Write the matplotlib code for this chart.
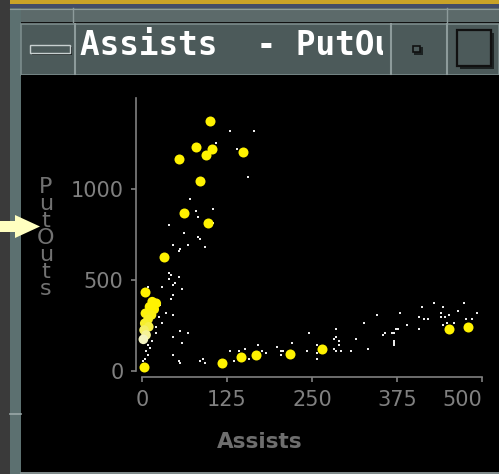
import numpy as np
import matplotlib
matplotlib.use('Agg')
from matplotlib import pyplot as plt
from matplotlib.patches import Rectangle, Polygon
from matplotlib.colors import LinearSegmentedColormap

# highlighted (yellow) players
yel_assists = [100, 80, 103, 94, 54, 148, 85, 62, 97, 33, 4, 18, 3, 118, 145, 168, 218, 265, 452, 480]
yel_putouts = [1375, 1233, 1222, 1189, 1167, 1202, 1046, 870, 815, 628, 432, 375, 20, 42, 79, 86, 93, 121, 231, 242]

# overlapping highlighted points near the origin
clu_assists = [15, 21, 11, 18, 5, 14, 9, 4, 10, 3, 6, 2]
clu_putouts = [381, 372, 353, 339, 317, 308, 284, 262, 243, 225, 198, 174]

# all the other players (small white dots)
dot_assists = [129, 165, 109, 139, 156, 71, 80, 104, 83, 39, 105,
               62, 83, 86, 45, 68, 92, 56, 54, 39, 42, 39, 54, 48, 45, 30, 59, 45, 42,
               9, 27, 36, 45, 25, 30, 21, 56, 68, 21, 15, 59, 45, 54, 56, 45,
               9, 12, 6, 9, 4, 1, 4,
               86, 89, 92, 130, 136, 142, 151, 157, 171, 177, 183, 198, 204, 207, 204, 221,
               242, 245, 257, 257, 257, 283, 286, 286, 289, 289, 283, 286, 292,
               307, 315, 327, 333, 345, 354, 357, 368, 371, 374, 377, 371, 371, 371, 380,
               389, 407, 407, 412, 415, 421, 430, 439, 439, 442, 445, 451, 442, 448, 459,
               465, 474, 477, 486, 492]
dot_putouts = [1320, 1320, 1254, 1222, 1068, 947, 881, 892, 848, 802, 815,
               760, 738, 727, 694, 694, 683, 672, 661, 540, 529, 507, 518, 485, 474, 463, 452, 419, 397,
               463, 364, 320, 309, 298, 265, 240, 221, 210, 210, 166, 155, 90, 57, 42, 185,
               145, 128, 112, 90, 68, 55, 40,
               57, 68, 46, 112, 57, 112, 123, 68, 145, 112, 101, 134, 112, 112, 90, 156,
               112, 210, 145, 101, 68, 177, 232, 188, 166, 145, 123, 112, 112,
               112, 177, 265, 123, 309, 199, 210, 210, 210, 232, 232, 145, 155, 166, 320,
               254, 298, 232, 353, 287, 287, 375, 320, 298, 353, 298, 309, 254, 265, 265,
               331, 375, 287, 287, 320]

x_ticks = [0, 125, 250, 375, 500]
y_ticks = [0, 500, 1000]

W, H = 499, 474
fig = plt.figure(figsize=(W / 100, H / 100), dpi=100, facecolor='black')

# window decoration, drawn in pixel coords
bg = fig.add_axes([0, 0, 1, 1])
bg.set_xlim(0, W)
bg.set_ylim(H, 0)
bg.axis('off')
bg.set_zorder(0)

def box(x, y, w, h, fc, ec='none', lw=0):
    bg.add_patch(Rectangle((x, y), w, h, facecolor=fc, edgecolor=ec, linewidth=lw))

box(0, 0, W, H, '#3a3a3a')
box(10, 0, W - 10, 3.5, '#c9a227')
box(10, 3.5, W - 10, 4.5, '#434c66')
box(10, 8, W - 10, 15, '#5c6a6a')
bg.plot([10, W], [8.5, 8.5], color='#8d9b9b', lw=0.8)
bg.plot([73.5, 73.5], [8, 22], color='#8d9b9b', lw=1)
bg.plot([447, 447], [8, 22], color='#8d9b9b', lw=1)
box(10, 8, 11, H - 8, '#5c7070')
bg.plot([10, 21], [413.5, 413.5], color='#9aa8a8', lw=1.2)
box(21, 22, W - 21, 1.5, '#111111')
box(21, 23.5, W - 21, 51.5, '#4c5a5a', '#7c8c8c', 1.2)
for xs in [75.5, 391, 447.5]:
    bg.plot([xs, xs], [24, 74], color='#8d9b9b', lw=1.5)
box(21, 75, W - 21, 397, 'black')
bg.plot([21, W], [472.5, 472.5], color='#8d9b9b', lw=1.2)

# title bar buttons
box(32, 47, 40, 8, '#1c2222')
box(30, 45, 40, 8, '#4c5a5a', '#c8d0d0', 1.0)
box(414, 47, 9, 8, '#1c2222')
box(413, 46, 7, 6, '#4c5a5a', '#111111', 1.2)
box(460, 33, 34, 36, '#1c2222')
box(457, 30, 34, 36, '#4c5a5a', '#111111', 1.6)

# title is cut off by the button, like in the window
clip = Rectangle((77, 24), 306, 50, transform=bg.transData)
title = bg.text(80, 55, 'Assists  - PutOuts', color='white', fontsize=23.5,
                family='DejaVu Sans Mono', weight='bold', va='baseline', ha='left',
                clip_on=True)
title.set_clip_path(clip)

# yellow arrow on the left edge
bg.add_patch(Polygon([(0, 221), (15, 221), (15, 215), (40, 226.5), (15, 238), (15, 232), (0, 232)],
                     closed=True, facecolor='#ffffc0', edgecolor='none'))

# the scatter plot itself
ax = fig.add_axes([142 / W, 103 / H, 340 / W, 273 / H])
ax.set_zorder(1)
ax.set_facecolor('none')
ax.set_xlim(0, 500)
ax.set_ylim(0, 1500)

gray = '#808080'
for s in ['top', 'right']:
    ax.spines[s].set_visible(False)
for s in ['left', 'bottom']:
    ax.spines[s].set_position(('outward', 4.3))
    ax.spines[s].set_color(gray)
    ax.spines[s].set_linewidth(1.2)

ax.scatter(dot_assists, dot_putouts, s=4, marker='s', color='#ebebeb', linewidths=0, clip_on=False, zorder=2)
pale = LinearSegmentedColormap.from_list('pale', ['#f4f4c8', '#f6ee30', '#fff200'])
ax.scatter(clu_assists, clu_putouts, s=48, c=clu_putouts, cmap=pale, vmin=170, vmax=340,
           linewidths=0, clip_on=False, zorder=3)
ax.scatter(yel_assists, yel_putouts, s=52, color='#fff200', linewidths=0, clip_on=False, zorder=4)

ax.set_xticks(x_ticks)
ax.set_yticks(y_ticks)
ax.set_xticklabels([str(v) for v in x_ticks])
ax.set_yticklabels([str(v) for v in y_ticks])
ax.tick_params(colors=gray, labelcolor=gray, labelsize=15, length=3.6, width=1.2, pad=5.5)
ax.get_xticklabels()[-1].set_horizontalalignment('right')

ax.set_xlabel('Assists', color='#6e6e6e', fontsize=15.5, fontweight='bold')
ax.xaxis.set_label_coords(118 / 340, -71 / 273)
ax.xaxis.label.set_va('center')

# stacked vertical y label
fig.text(46 / W, 1 - 238 / H, 'P\nu\nt\nO\nu\nt\ns', color='#727272', fontsize=16,
         ha='center', va='center', linespacing=0.82, multialignment='center')

fig.savefig('out.png', dpi=100, facecolor='black')
